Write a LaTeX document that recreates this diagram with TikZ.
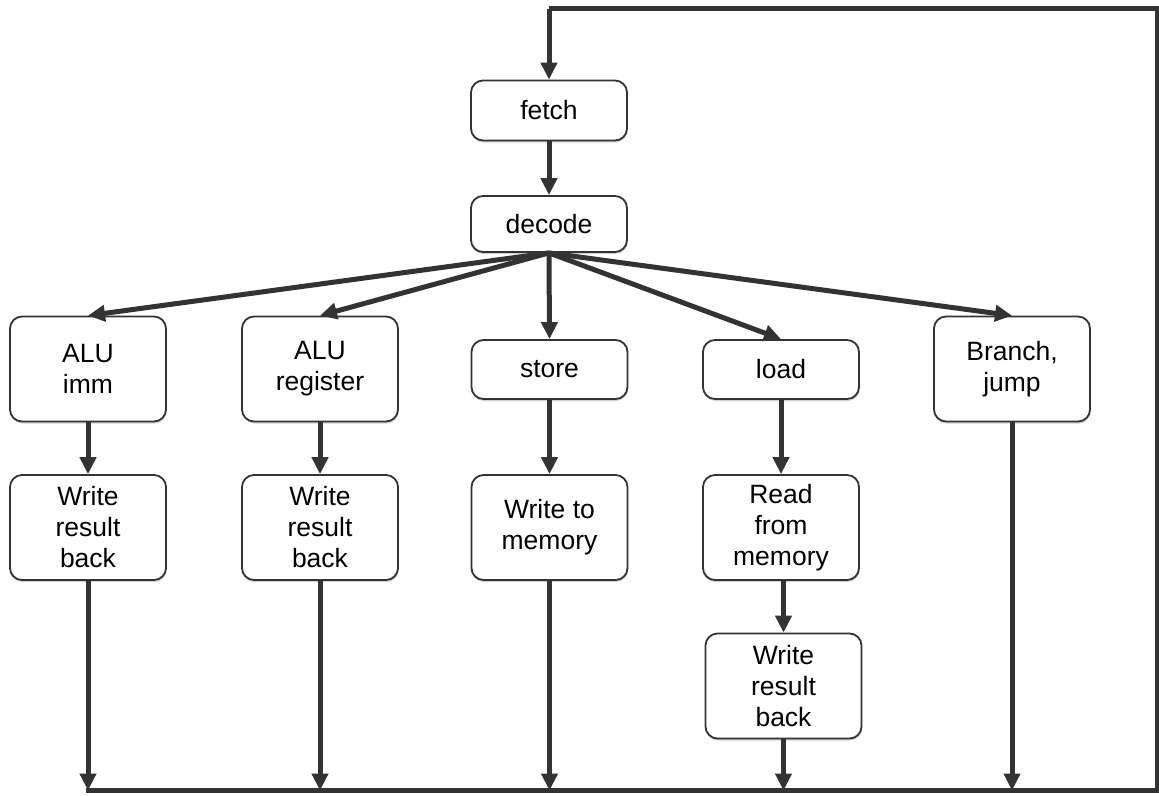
\documentclass[tikz,border=0pt]{standalone}
\usepackage{fontspec}
\setmainfont{Liberation Sans}
\usetikzlibrary{arrows.meta,shadows}
\definecolor{linec}{HTML}{333333}
\tikzset{
  box/.style={draw=linec, line width=1.8pt, rounded corners=12pt, fill=white,
    minimum width=156pt, inner sep=0pt, align=center,
    font=\fontsize{26.5}{31}\selectfont,
    drop shadow={shadow xshift=0.5pt, shadow yshift=-2pt, opacity=0.18, fill=black}},
  tallbox/.style={box, minimum height=105pt},
  shortbox/.style={box, minimum height=59pt},
  arr/.style={draw=linec, line width=5pt, -{Triangle[width=16pt,length=17pt]}},
  wire/.style={draw=linec, line width=5pt}
}
\begin{document}
\begin{tikzpicture}[x=1pt,y=-1pt]
\useasboundingbox (0,0) rectangle (1159,795);
% nodes
\node[shortbox, minimum height=60pt] (fetch) at (549,110.5) {fetch};
\node[shortbox, minimum height=56pt] (decode) at (549,224) {decode};
\node[tallbox] (aluimm) at (88,369) {ALU\\imm};
\node[tallbox] (alureg) at (320,369) {ALU\\register};
\node[shortbox] (store) at (549.5,369.5) {store};
\node[shortbox] (load) at (781,369.5) {load};
\node[tallbox] (branch) at (1012,369) {Branch,\\jump};
\node[tallbox] (wr1) at (88,527.5) {Write\\result\\back};
\node[tallbox] (wr2) at (320,527.5) {Write\\result\\back};
\node[tallbox] (wmem) at (549.5,527.5) {Write to\\memory};
\node[tallbox] (rmem) at (781,527.5) {Read\\from\\memory};
\node[tallbox] (wr3) at (783.5,686) {Write\\result\\back};
% loop coordinates
\coordinate (botL) at (86,790.5);
\coordinate (botR) at (1157,790.5);
\coordinate (topR) at (1157,8.5);
\coordinate (topL) at (549,8.5);
% bottom bus and return loop
\draw[wire, line join=miter] (botL) -- (botR) -- (topR) -- (topL);
\draw[arr] (topL) -- (fetch.north);
% main flow
\draw[arr] (fetch.south) -- (decode.north);
\draw[arr] (decode.south) -- (aluimm.north);
\draw[arr] (decode.south) -- (alureg.north);
\draw[arr] (decode.south) -- (store.north);
\draw[arr] (decode.south) -- (load.north);
\draw[arr] (decode.south) -- (branch.north);
\draw[arr] (aluimm.south) -- (wr1.north);
\draw[arr] (alureg.south) -- (wr2.north);
\draw[arr] (store.south) -- (wmem.north);
\draw[arr] (load.south) -- (rmem.north);
\draw[arr] (rmem.south -| wr3.north) -- (wr3.north);
% into bus
\draw[arr] (wr1.south) -- (wr1.south |- botL);
\draw[arr] (wr2.south) -- (wr2.south |- botL);
\draw[arr] (wmem.south) -- (wmem.south |- botL);
\draw[arr] (wr3.south) -- (wr3.south |- botL);
\draw[arr] (branch.south) -- (branch.south |- botL);
\end{tikzpicture}
\end{document}
